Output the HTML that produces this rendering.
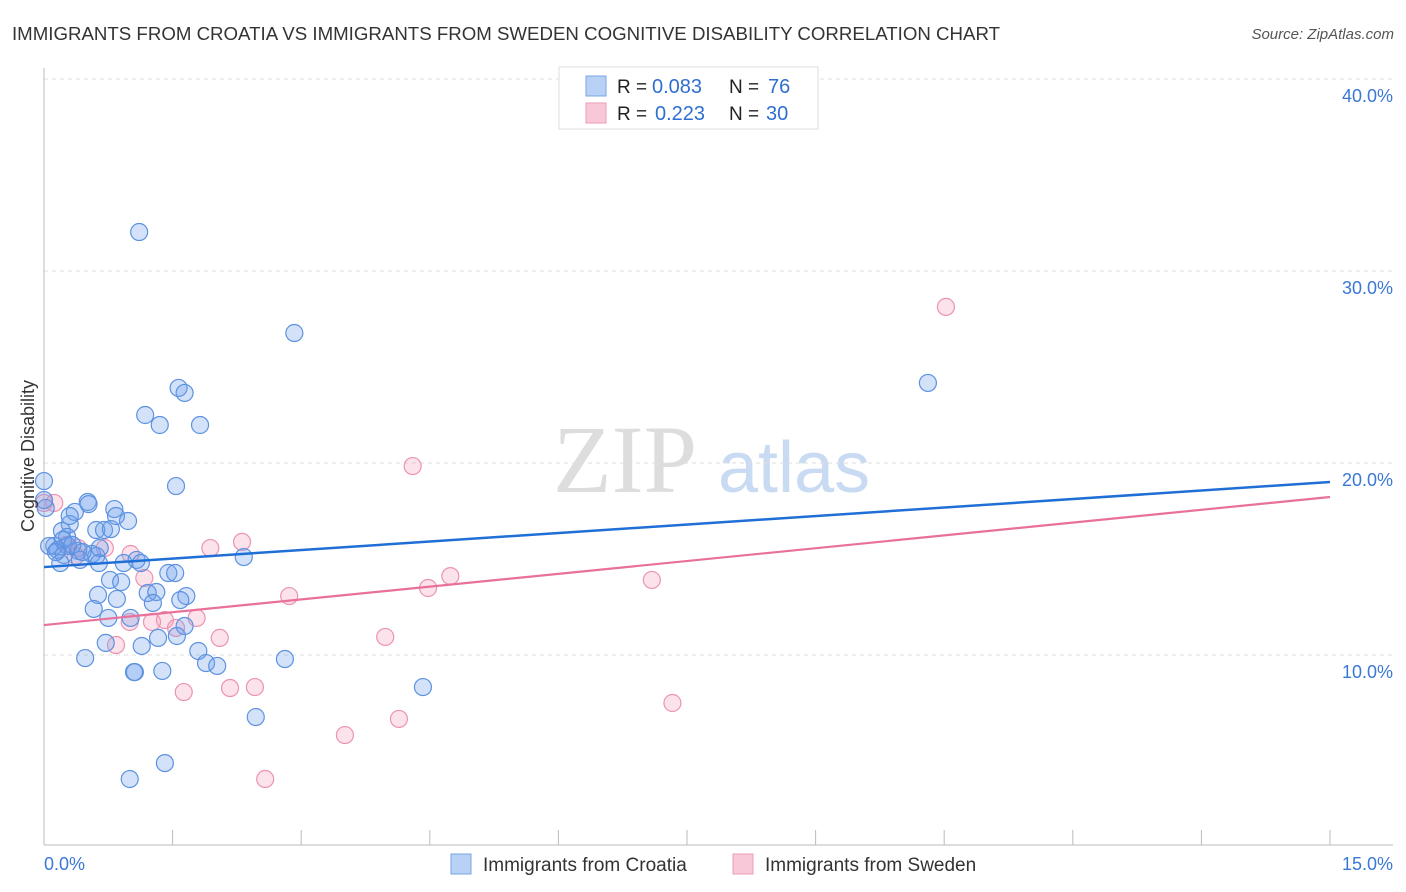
<!DOCTYPE html>
<html><head><meta charset="utf-8"><style>
body{margin:0;background:#fff;font-family:"Liberation Sans",sans-serif;}
svg{display:block}
</style></head><body>
<svg width="1406" height="892" viewBox="0 0 1406 892">
<text x="12" y="40" font-size="18" fill="#333" textLength="988" lengthAdjust="spacingAndGlyphs">IMMIGRANTS FROM CROATIA VS IMMIGRANTS FROM SWEDEN COGNITIVE DISABILITY CORRELATION CHART</text>
<text x="1394" y="39" font-size="15" fill="#555" font-style="italic" text-anchor="end">Source: ZipAtlas.com</text>
<g>
<text x="553" y="492" font-family="Liberation Serif,serif" font-size="96" fill="#ddd">ZIP</text>
<text x="718" y="492" font-size="72" fill="#c9daf3">atlas</text>
</g>
<g id="grid"></g>
<g id="axes"></g>
<g id="marks"></g>
<text x="34" y="456" font-size="18" fill="#333" text-anchor="middle" transform="rotate(-90 34 456)">Cognitive Disability</text>
<text x="44" y="870" font-size="18" fill="#3a78d6">0.0%</text>
<text x="1393" y="870" font-size="18" fill="#3a78d6" text-anchor="end">15.0%</text>
<g>
<rect x="559" y="67" width="259" height="62" fill="#fff" stroke="#ddd"/>
<rect x="586" y="76" width="20" height="20" fill="#b8d1f5" stroke="#7aa6e6"/>
<rect x="586" y="103" width="20" height="20" fill="#f9c8d8" stroke="#ec9bb6"/>
<text x="617" y="93" font-size="19" fill="#222">R =</text>
<text x="652" y="93" font-size="20" fill="#2f6fd0">0.083</text>
<text x="729" y="93" font-size="19" fill="#222">N =</text>
<text x="768" y="93" font-size="20" fill="#2f6fd0">76</text>
<text x="617" y="120" font-size="19" fill="#222">R =</text>
<text x="655" y="120" font-size="20" fill="#2f6fd0">0.223</text>
<text x="729" y="120" font-size="19" fill="#222">N =</text>
<text x="766" y="120" font-size="20" fill="#2f6fd0">30</text>
</g>
<g>
<rect x="451" y="854" width="20" height="20" fill="#b8d1f5" stroke="#7aa6e6"/>
<text x="483" y="871" font-size="19" fill="#333">Immigrants from Croatia</text>
<rect x="733" y="854" width="20" height="20" fill="#f9c8d8" stroke="#ec9bb6"/>
<text x="765" y="871" font-size="19" fill="#333">Immigrants from Sweden</text>
</g>
</svg>
<script>
const yTicks=[10,20,30,40];
const yTickLabels=["10.0%","20.0%","30.0%","40.0%"];
const xTicks=[0,1.5,3,4.5,6,7.5,9,10.5,12,13.5,15];
const croatiaX=[1.11,2.92,1.57,1.64,1.18,1.35,1.82,10.31,1.54,0,0.02,0.51,0.52,0.82,0.84,0.98,0.36,0.30,0.61,0.70,0.78,0.21,0.27,0.28,0.12,0.16,0.23,0.40,0.42,0.56,0.61,0.64,0.19,0.93,1.08,1.13,2.33,0.77,0.90,1.45,1.53,1.21,1.31,1.66,0.63,0.85,1.27,1.59,0.58,0.75,1.01,1.64,1.55,1.33,1.14,0.72,0.48,1.80,1.89,2.02,2.81,1.06,1.05,1.38,4.42,2.47,1.41,1.00,0,0.22,0.65,0.33,0.45,0.06,0.30,0.14];
const croatiaY=[32.03,26.77,23.91,23.65,22.5,21.98,21.98,24.17,18.8,19.06,17.66,17.97,17.86,17.6,17.24,16.98,17.45,16.82,16.51,16.51,16.56,16.46,16.15,15.68,15.68,15.47,15.21,15.42,14.95,15.26,15.16,14.79,14.79,14.79,14.95,14.79,15.1,13.91,13.8,14.27,14.27,13.23,13.28,13.07,13.13,12.92,12.71,12.86,12.4,11.93,11.93,11.51,10.99,10.89,10.47,10.63,9.84,10.21,9.58,9.43,9.79,9.11,9.11,9.17,8.33,6.77,4.37,3.54,18.07,15.99,15.57,15.73,15.36,15.68,17.24,15.36];
const swedenX=[10.52,4.30,0,0.12,2.31,1.94,1.01,0.26,0.40,0.71,0.37,1.17,7.09,4.74,4.48,2.86,1.78,1.41,1.00,1.26,1.54,2.05,3.98,0.84,1.63,2.17,2.46,7.33,4.14,3.51,2.58];
const swedenY=[28.13,19.84,17.92,17.92,15.89,15.57,15.26,15.73,15.57,15.57,15.16,14.01,13.91,14.11,13.49,13.07,11.93,11.82,11.72,11.72,11.41,10.89,10.94,10.52,8.07,8.28,8.33,7.5,6.67,5.83,3.54];
const croatiaTrend=[14.58,19.01];
const swedenTrend=[11.56,18.23];
const NS="http://www.w3.org/2000/svg";
const sx=v=>44+v/15*1286;
const sy=v=>847-v*19.2;
function mk(tag,attrs,parent){const e=document.createElementNS(NS,tag);for(const k in attrs)e.setAttribute(k,attrs[k]);parent.appendChild(e);return e;}
const gridG=document.getElementById('grid'),axesG=document.getElementById('axes'),marksG=document.getElementById('marks');
yTicks.forEach((t,i)=>{
 const l=mk('line',{x1:44,x2:1393,y1:sy(t),y2:sy(t),stroke:'#ddd','stroke-dasharray':'4 4'},gridG);
 
 
 const tx=mk('text',{x:1393,y:sy(t)+23,'font-size':18,fill:'#3a78d6','text-anchor':'end'},gridG);
 tx.textContent=yTickLabels[i];
 
 
});
const yAxisLine=mk('line',{x1:44,x2:44,y1:68,y2:845,stroke:'#bbb'},axesG);


const xAxisLine=mk('line',{x1:44,x2:1393,y1:845,y2:845,stroke:'#bbb'},axesG);


xTicks.forEach(t=>{
 const l=mk('line',{x1:sx(t),x2:sx(t),y1:830,y2:845,stroke:'#bbb'},axesG);
 
 
});
swedenX.forEach((x,i)=>{
 const c=mk('circle',{cx:sx(x),cy:sy(swedenY[i]),r:8.5,fill:'rgba(244,160,190,0.3)',stroke:'#eb94b2','stroke-width':1.2},marksG);
 
 
});
croatiaX.forEach((x,i)=>{
 const c=mk('circle',{cx:sx(x),cy:sy(croatiaY[i]),r:8.5,fill:'rgba(110,160,235,0.3)',stroke:'#5d92e0','stroke-width':1.2},marksG);
 
 
});
const bl=mk('line',{x1:sx(0),x2:sx(15),y1:sy(croatiaTrend[0]),y2:sy(croatiaTrend[1]),stroke:'#1f6fd6','stroke-width':2.5},marksG);


const pl=mk('line',{x1:sx(0),x2:sx(15),y1:sy(swedenTrend[0]),y2:sy(swedenTrend[1]),stroke:'#e8709a','stroke-width':2.2},marksG);


</script>
</body></html>
